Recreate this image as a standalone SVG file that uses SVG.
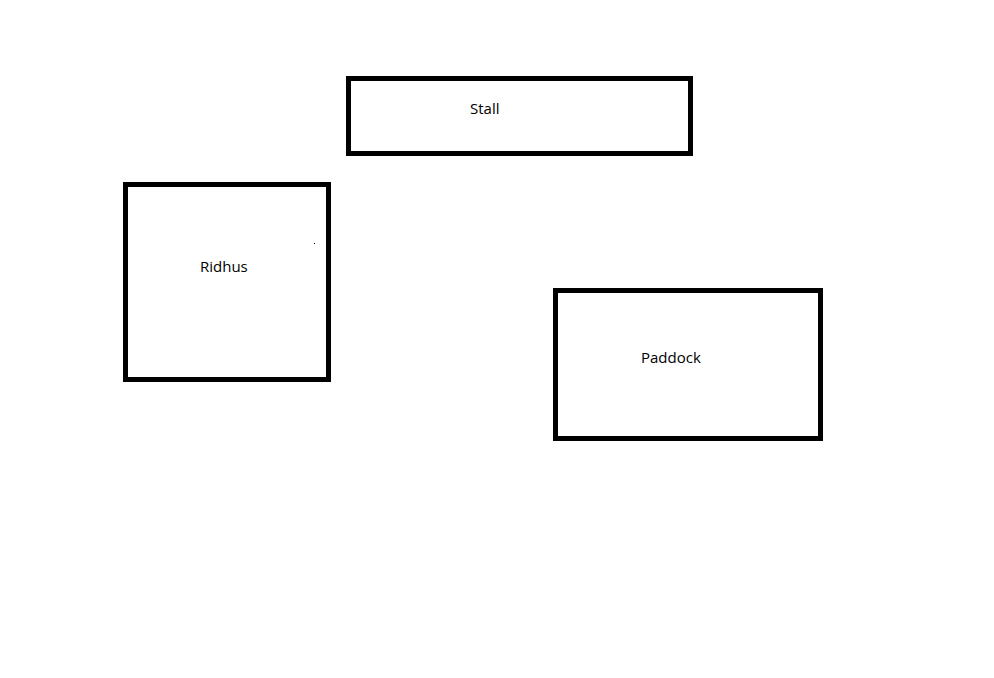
<svg xmlns="http://www.w3.org/2000/svg" width="994" height="678" viewBox="0 0 994 678">
<style>
.box{fill:none;stroke:#000;stroke-width:5}
.lbl{font-family:"Open Sans","Noto Sans",sans-serif;font-size:15px;fill:#000}
</style>
<rect width="994" height="678" fill="#fff"/>
<g id="stall">
<rect class="box" x="348.5" y="78.5" width="342" height="75"/>
<text class="lbl" x="470" y="114">Stall</text>
</g>
<g id="ridhus">
<rect class="box" x="125.5" y="184.5" width="203" height="195"/>
<text class="lbl" x="200" y="272">Ridhus</text>
<rect x="314" y="243" width="1" height="1" fill="#000"/>
</g>
<g id="paddock">
<rect class="box" x="555.5" y="290.5" width="265" height="148"/>
<text class="lbl" x="641" y="363">Paddock</text>
</g>
<g id="connectors"></g>
</svg>
